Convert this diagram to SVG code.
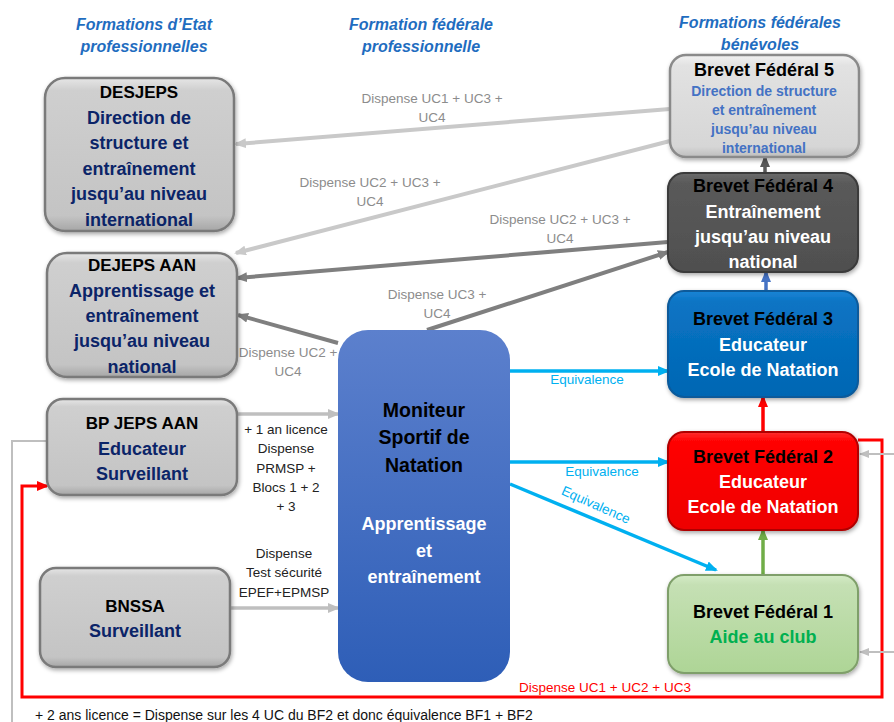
<svg xmlns="http://www.w3.org/2000/svg" width="894" height="722" viewBox="0 0 894 722">
<style>
text{font-family:"Liberation Sans",Arial,sans-serif;text-anchor:middle}
.hdr{font-size:16px;font-weight:bold;font-style:italic;fill:#1f6dc0}
.t{font-size:17px;font-weight:bold;fill:#000}
.n{font-size:18px;font-weight:bold;fill:#0b2468}
.w{font-size:18px;font-weight:bold;fill:#fff}
.lab{font-size:13.5px;fill:#8c8c8c}
.blk{font-size:13.5px;fill:#222}
.cy{font-size:13.5px;fill:#00b0f0}
.rd{font-size:13.5px;fill:#ff0000}
.grey{fill:url(#gGrey);stroke:#7a7a7a;stroke-width:2.5}
</style>
<defs>
<linearGradient id="gGrey" x1="0" y1="0" x2="0" y2="1">
<stop offset="0" stop-color="#e6e6e6"/><stop offset="0.08" stop-color="#cfcfcf"/><stop offset="0.9" stop-color="#c4c4c4"/><stop offset="1" stop-color="#a6a6a6"/>
</linearGradient>
<linearGradient id="gLight" x1="0" y1="0" x2="0" y2="1">
<stop offset="0" stop-color="#f2f2f2"/><stop offset="0.1" stop-color="#e2e2e2"/><stop offset="0.9" stop-color="#d6d6d6"/><stop offset="1" stop-color="#bdbdbd"/>
</linearGradient>
<linearGradient id="gBlueM" x1="0" y1="0" x2="0" y2="1">
<stop offset="0" stop-color="#5c80cd"/><stop offset="1" stop-color="#2e5eb7"/>
</linearGradient>
<linearGradient id="gDark" x1="0" y1="0" x2="0" y2="1">
<stop offset="0" stop-color="#6a6a6a"/><stop offset="0.1" stop-color="#5a5a5a"/><stop offset="1" stop-color="#4f4f4f"/>
</linearGradient>
<linearGradient id="gBF3" x1="0" y1="0" x2="0" y2="1">
<stop offset="0" stop-color="#1a85d6"/><stop offset="0.1" stop-color="#0a74c4"/><stop offset="1" stop-color="#0066b3"/>
</linearGradient>
<linearGradient id="gBF2" x1="0" y1="0" x2="0" y2="1">
<stop offset="0" stop-color="#ff3030"/><stop offset="0.1" stop-color="#ff0000"/><stop offset="1" stop-color="#ee0000"/>
</linearGradient>
<linearGradient id="gBF1" x1="0" y1="0" x2="0" y2="1">
<stop offset="0" stop-color="#d4ebc6"/><stop offset="0.1" stop-color="#c5e0b4"/><stop offset="1" stop-color="#aed596"/>
</linearGradient>
<filter id="sh" x="-10%" y="-10%" width="120%" height="125%">
<feDropShadow dx="1" dy="2" stdDeviation="2" flood-color="#000" flood-opacity="0.35"/>
</filter>
<marker id="aLight" viewBox="0 0 12 10" refX="10" refY="5" markerWidth="12" markerHeight="10" markerUnits="userSpaceOnUse" orient="auto"><path d="M0,0 L12,5 L0,10 z" fill="#c9c9c9"/></marker>
<marker id="aLight2" viewBox="0 0 12 10" refX="10" refY="5" markerWidth="12" markerHeight="10" markerUnits="userSpaceOnUse" orient="auto"><path d="M0,0 L12,5 L0,10 z" fill="#bfbfbf"/></marker>
<marker id="aMid" viewBox="0 0 12 10" refX="10" refY="5" markerWidth="12" markerHeight="10" markerUnits="userSpaceOnUse" orient="auto"><path d="M0,0 L12,5 L0,10 z" fill="#7f7f7f"/></marker>
<marker id="aCyan" viewBox="0 0 12 10" refX="10" refY="5" markerWidth="12" markerHeight="10" markerUnits="userSpaceOnUse" orient="auto"><path d="M0,0 L12,5 L0,10 z" fill="#00b0f0"/></marker>
<marker id="aRed" viewBox="0 0 12 10" refX="10" refY="5" markerWidth="12" markerHeight="10" markerUnits="userSpaceOnUse" orient="auto"><path d="M0,0 L12,5 L0,10 z" fill="#ff0000"/></marker>
<marker id="aGreen" viewBox="0 0 12 10" refX="10" refY="5" markerWidth="12" markerHeight="10" markerUnits="userSpaceOnUse" orient="auto"><path d="M0,0 L12,5 L0,10 z" fill="#70ad47"/></marker>
<marker id="aBlue" viewBox="0 0 12 10" refX="10" refY="5" markerWidth="12" markerHeight="10" markerUnits="userSpaceOnUse" orient="auto"><path d="M0,0 L12,5 L0,10 z" fill="#4472c4"/></marker>
<marker id="aDark" viewBox="0 0 12 10" refX="10" refY="5" markerWidth="12" markerHeight="10" markerUnits="userSpaceOnUse" orient="auto"><path d="M0,0 L12,5 L0,10 z" fill="#595959"/></marker>
<marker id="aSmall" viewBox="0 0 10 8" refX="9" refY="4" markerWidth="10" markerHeight="8" markerUnits="userSpaceOnUse" orient="auto"><path d="M0,0 L10,4 L0,8 z" fill="#bfbfbf"/></marker>
</defs>
<rect width="894" height="722" fill="#fff"/>

<g id="headers">
<text class="hdr" x="144" y="30">Formations d’Etat</text>
<text class="hdr" x="144" y="52">professionnelles</text>
<text class="hdr" x="421" y="30">Formation fédérale</text>
<text class="hdr" x="421" y="52">professionnelle</text>
<text class="hdr" x="760" y="28">Formations fédérales</text>
<text class="hdr" x="760" y="50">bénévoles</text>
</g>

<g id="connectors" fill="none">
<line x1="670" y1="109" x2="236" y2="144" stroke="#c9c9c9" stroke-width="4" marker-end="url(#aLight)"/>
<line x1="670" y1="141" x2="236" y2="253" stroke="#c9c9c9" stroke-width="4" marker-end="url(#aLight)"/>
<line x1="668" y1="242" x2="237" y2="278" stroke="#7f7f7f" stroke-width="4" marker-end="url(#aMid)"/>
<line x1="427" y1="330" x2="668" y2="252" stroke="#7f7f7f" stroke-width="4" marker-end="url(#aMid)"/>
<line x1="338" y1="343" x2="238" y2="315" stroke="#7f7f7f" stroke-width="4" marker-end="url(#aMid)"/>
<line x1="237" y1="414" x2="338" y2="414" stroke="#bfbfbf" stroke-width="3.5" marker-end="url(#aLight2)"/>
<line x1="230" y1="608" x2="338" y2="608" stroke="#bfbfbf" stroke-width="3.5" marker-end="url(#aLight2)"/>
<line x1="510" y1="371" x2="668" y2="371" stroke="#00b0f0" stroke-width="3.5" marker-end="url(#aCyan)"/>
<line x1="510" y1="462" x2="668" y2="462" stroke="#00b0f0" stroke-width="3.5" marker-end="url(#aCyan)"/>
<line x1="510" y1="484" x2="716" y2="570" stroke="#00b0f0" stroke-width="3.5" marker-end="url(#aCyan)"/>
<line x1="765" y1="173" x2="765" y2="157" stroke="#595959" stroke-width="3.5" marker-end="url(#aDark)"/>
<line x1="766" y1="291" x2="766" y2="272" stroke="#4472c4" stroke-width="3.5" marker-end="url(#aBlue)"/>
<line x1="763" y1="432" x2="763" y2="397" stroke="#ff0000" stroke-width="3.5" marker-end="url(#aRed)"/>
<line x1="763" y1="575" x2="763" y2="530" stroke="#70ad47" stroke-width="3.5" marker-end="url(#aGreen)"/>
<polyline points="858,440 882,440 882,697 22,697 22,486 47,486" stroke="#ff0000" stroke-width="3" marker-end="url(#aRed)"/>
<polyline points="47,441 12,441 12,722" stroke="#bfbfbf" stroke-width="2"/>
<line x1="894" y1="454" x2="860" y2="454" stroke="#bfbfbf" stroke-width="2" marker-end="url(#aSmall)"/>
<line x1="894" y1="652" x2="860" y2="652" stroke="#bfbfbf" stroke-width="2" marker-end="url(#aSmall)"/>

<text class="lab" x="432" y="103">Dispense UC1 + UC3 +</text>
<text class="lab" x="432" y="122">UC4</text>
<text class="lab" x="370" y="187">Dispense UC2 + UC3 +</text>
<text class="lab" x="370" y="206">UC4</text>
<text class="lab" x="560" y="224">Dispense UC2 + UC3 +</text>
<text class="lab" x="560" y="243">UC4</text>
<text class="lab" x="437" y="299">Dispense UC3 +</text>
<text class="lab" x="437" y="318">UC4</text>
<text class="lab" x="288" y="357">Dispense UC2 +</text>
<text class="lab" x="288" y="376">UC4</text>
<text class="blk" x="286" y="434">+ 1 an licence</text>
<text class="blk" x="286" y="453">Dispense</text>
<text class="blk" x="286" y="473">PRMSP +</text>
<text class="blk" x="286" y="492">Blocs 1 + 2</text>
<text class="blk" x="286" y="511">+ 3</text>
<text class="blk" x="284" y="558">Dispense</text>
<text class="blk" x="284" y="577">Test sécurité</text>
<text class="blk" x="284" y="597">EPEF+EPMSP</text>
<text class="cy" x="587" y="384">Equivalence</text>
<text class="cy" x="602" y="476">Equivalence</text>
<text class="cy" x="0" y="0" transform="translate(594,509) rotate(24)">Equivalence</text>
<text class="rd" x="605" y="692">Dispense UC1 + UC2 + UC3</text>
</g>

<g id="desjeps">
<rect class="grey" x="45" y="78" width="189" height="153" rx="20" filter="url(#sh)"/>
<text class="t" x="139" y="98">DESJEPS</text>
<text class="n" x="139" y="123.5">Direction de</text>
<text class="n" x="139" y="149">structure et</text>
<text class="n" x="139" y="174.5">entraînement</text>
<text class="n" x="139" y="200">jusqu’au niveau</text>
<text class="n" x="139" y="225.5">international</text>
</g>

<g id="dejeps">
<rect class="grey" x="47" y="253" width="190" height="124" rx="20" filter="url(#sh)"/>
<text class="t" x="142" y="271">DEJEPS AAN</text>
<text class="n" x="142" y="297">Apprentissage et</text>
<text class="n" x="142" y="322">entraînement</text>
<text class="n" x="142" y="347">jusqu’au niveau</text>
<text class="n" x="142" y="373">national</text>
</g>

<g id="bpjeps">
<rect class="grey" x="47" y="399" width="190" height="96" rx="16" filter="url(#sh)"/>
<text class="t" x="142" y="429">BP JEPS AAN</text>
<text class="n" x="142" y="455">Educateur</text>
<text class="n" x="142" y="480">Surveillant</text>
</g>

<g id="bnssa">
<rect class="grey" x="40" y="568" width="190" height="99" rx="16" filter="url(#sh)"/>
<text class="t" x="135" y="612">BNSSA</text>
<text class="n" x="135" y="637">Surveillant</text>
</g>

<g id="moniteur">
<rect x="338" y="330" width="172" height="352" rx="30" fill="url(#gBlueM)"/>
<text class="t" x="424" y="417" style="font-size:19.5px">Moniteur</text>
<text class="t" x="424" y="444" style="font-size:19.5px">Sportif de</text>
<text class="t" x="424" y="472" style="font-size:19.5px">Natation</text>
<text class="w" x="424" y="530">Apprentissage</text>
<text class="w" x="424" y="557">et</text>
<text class="w" x="424" y="583">entraînement</text>
</g>

<g id="bf5">
<rect x="670" y="55" width="189" height="102" rx="16" fill="url(#gLight)" stroke="#8a8a8a" stroke-width="2.5" filter="url(#sh)"/>
<text class="t" x="764" y="76" style="font-size:18px">Brevet Fédéral 5</text>
<text x="764" y="96" style="font-size:14px;font-weight:bold;fill:#4472c4">Direction de structure</text>
<text x="764" y="115" style="font-size:14px;font-weight:bold;fill:#4472c4">et entraînement</text>
<text x="764" y="134" style="font-size:14px;font-weight:bold;fill:#4472c4">jusqu’au niveau</text>
<text x="764" y="153" style="font-size:14px;font-weight:bold;fill:#4472c4">international</text>
</g>

<g id="bf4">
<rect x="668" y="173" width="190" height="99" rx="16" fill="url(#gDark)" stroke="#3a3a3a" stroke-width="2" filter="url(#sh)"/>
<text class="t" x="763" y="192" style="font-size:18px">Brevet Fédéral 4</text>
<text class="w" x="763" y="218">Entraînement</text>
<text class="w" x="763" y="243">jusqu’au niveau</text>
<text class="w" x="763" y="268">national</text>
</g>

<g id="bf3">
<rect x="668" y="291" width="190" height="106" rx="16" fill="url(#gBF3)" stroke="#0a5a9a" stroke-width="2" filter="url(#sh)"/>
<text class="t" x="763" y="325" style="font-size:18px">Brevet Fédéral 3</text>
<text class="w" x="763" y="351">Educateur</text>
<text class="w" x="763" y="376">Ecole de Natation</text>
</g>

<g id="bf2">
<rect x="668" y="432" width="190" height="98" rx="16" fill="url(#gBF2)" stroke="#b00000" stroke-width="2" filter="url(#sh)"/>
<text class="t" x="763" y="463" style="font-size:18px">Brevet Fédéral 2</text>
<text class="w" x="763" y="488">Educateur</text>
<text class="w" x="763" y="513">Ecole de Natation</text>
</g>

<g id="bf1">
<rect x="668" y="575" width="190" height="98" rx="16" fill="url(#gBF1)" stroke="#7f9f6a" stroke-width="2" filter="url(#sh)"/>
<text class="t" x="763" y="618" style="font-size:18px">Brevet Fédéral 1</text>
<text x="763" y="643" style="font-size:18px;font-weight:bold;fill:#00b050">Aide au club</text>
</g>

<g id="footnote">
<text x="35" y="720" style="font-size:14px;fill:#111;text-anchor:start">+ 2 ans licence = Dispense sur les 4 UC du BF2 et donc équivalence BF1 + BF2</text>
</g>
</svg>
